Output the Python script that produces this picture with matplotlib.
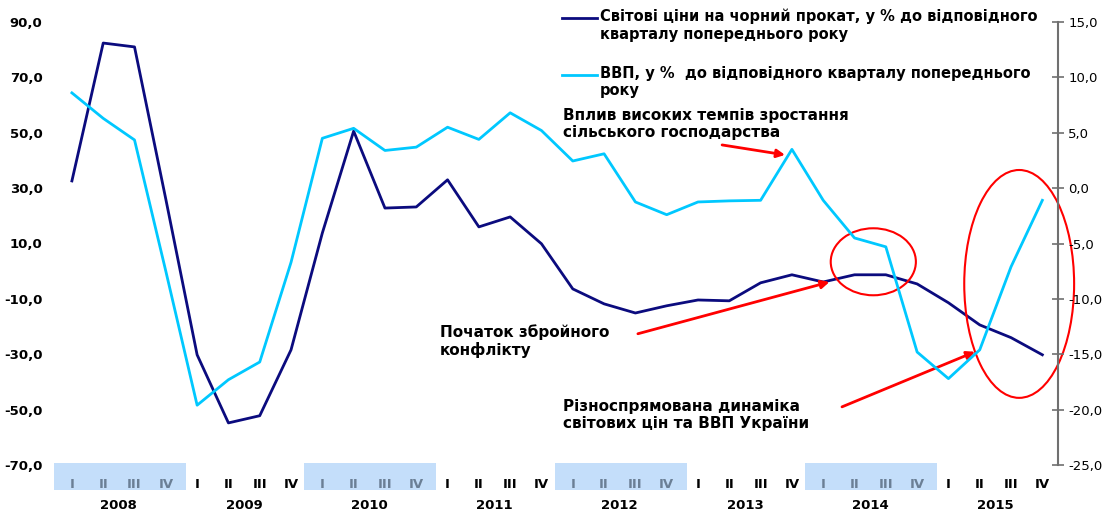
import matplotlib
matplotlib.use('Agg')
import matplotlib.pyplot as plt
from matplotlib.patches import Rectangle, Ellipse
from matplotlib.lines import Line2D

plt.rcParams['font.family'] = ['DejaVu Sans']

years = ['2008', '2009', '2010', '2011', '2012', '2013', '2014', '2015']
quarters = ['I', 'II', 'III', 'IV']

# світові ціни на чорний прокат, % (ліва вісь)
steel = [32.6, 82.4, 81.0, 26.0,
         -30.2, -54.8, -52.2, -28.4,
         13.8, 50.6, 22.8, 23.2,
         33.0, 16.0, 19.6, 9.9,
         -6.4, -11.8, -15.1, -12.5,
         -10.4, -10.7, -4.2, -1.3,
         -3.9, -1.3, -1.3, -4.6,
         -11.4, -19.4, -24.0, -30.2]

# ВВП, % (права вісь)
gdp = [8.6, 6.3, 4.35, -7.5,
       -19.6, -17.3, -15.7, -6.7,
       4.5, 5.4, 3.4, 3.7,
       5.5, 4.4, 6.8, 5.2,
       2.45, 3.1, -1.25, -2.4,
       -1.25, -1.15, -1.1, 3.5,
       -1.1, -4.5, -5.3, -14.8,
       -17.2, -14.6, -7.1, -1.1]

steel_label = 'Світові ціни на чорний прокат, у % до відповідного\nкварталу попереднього року'
gdp_label = 'ВВП, у %  до відповідного кварталу попереднього\nроку'

dark = '#0b0b7e'
light = '#00c8ff'
W, H = 1105, 513


def px(x, y):
    return x / W, 1 - y / H


fig = plt.figure(figsize=(W / 100, H / 100), dpi=100)
ax = fig.add_axes([55 / W, 48 / H, (1058 - 55) / W, (465 - 22) / H])
ax2 = ax.twinx()

x = list(range(len(steel)))
ax.plot(x, steel, color=dark, lw=2.0, zorder=3)
ax2.plot(x, gdp, color=light, lw=2.0, zorder=3)

ax.set_xlim(-0.54, 31.5)
ax.set_ylim(-70, 90)
ax2.set_ylim(-25, 15)
ax.set_yticks(range(-70, 91, 20))
ax.set_yticklabels([f'{v},0' for v in range(-70, 91, 20)], fontweight='bold', fontsize=9.5)
ax2.set_yticks(range(-25, 16, 5))
ax2.set_yticklabels([f'{v},0' for v in range(-25, 16, 5)], fontsize=9.5)
ax.tick_params(axis='y', length=0, pad=9)
ax.set_xticks([])
for s in ['left', 'top', 'bottom', 'right']:
    ax.spines[s].set_visible(False)
for s in ['left', 'top', 'bottom']:
    ax2.spines[s].set_visible(False)
ax2.spines['right'].set_color('#707070')
ax2.spines['right'].set_linewidth(1.5)
ax2.tick_params(axis='y', direction='inout', length=9, width=1.2, color='#707070', pad=3)

# підписи кварталів і років
tr = ax.get_xaxis_transform()
for i, yr in enumerate(years):
    shaded = i % 2 == 0
    if shaded:
        ax.add_patch(Rectangle((4 * i - 0.58, -0.056), 4.22, 0.061, transform=tr,
                               facecolor='#c4defa', edgecolor='none', clip_on=False, zorder=0))
    for j, q in enumerate(quarters):
        ax.text(4 * i + j, -0.045, q, transform=tr, ha='center', va='center',
                fontsize=9.5, fontweight='bold', color='#6b7f95' if shaded else 'black')
    ax.text(4 * i + 1.5, -0.091, yr, transform=tr, ha='center', va='center',
            fontsize=9.5, fontweight='bold')

# легенда
for yy, lab, col in [(18, steel_label, dark), (75, gdp_label, light)]:
    fig.add_artist(Line2D([562 / W, 597 / W], [1 - yy / H] * 2, color=col, lw=2.0))
    fig.text(*px(600, yy - 9), lab, fontsize=10.5, fontweight='bold', va='top', ha='left',
             linespacing=1.2)

# анотації
note_kw = dict(fontsize=11, fontweight='bold', va='top', ha='left', linespacing=1.2)
ax.text(15.69, 59.0, 'Вплив високих темпів зростання\nсільського господарства', **note_kw)
ax.text(11.76, -19.0, 'Початок збройного\nконфлікту', **note_kw)
ax.text(15.69, -46.0, 'Різноспрямована динаміка\nсвітових цін та ВВП України', **note_kw)

arrow = dict(arrowstyle='-|>', color='red', lw=2.0, mutation_scale=12, shrinkA=0, shrinkB=0)
ax.annotate('', xy=(22.78, 42.0), xytext=(20.77, 45.6), arrowprops=arrow)
ax.annotate('', xy=(24.2, -3.9), xytext=(18.08, -22.6), arrowprops=arrow)
ax.annotate('', xy=(28.85, -29.1), xytext=(24.6, -49.0), arrowprops=arrow)

ax.add_patch(Ellipse((25.6, 3.4), 2.72, 24.2, fill=False, edgecolor='red', lw=1.5,
                     zorder=4, clip_on=False))
ax.add_patch(Ellipse((30.26, -4.6), 3.51, 82.3, fill=False, edgecolor='red', lw=1.5,
                     zorder=4, clip_on=False))

fig.savefig('out.png', dpi=100)
